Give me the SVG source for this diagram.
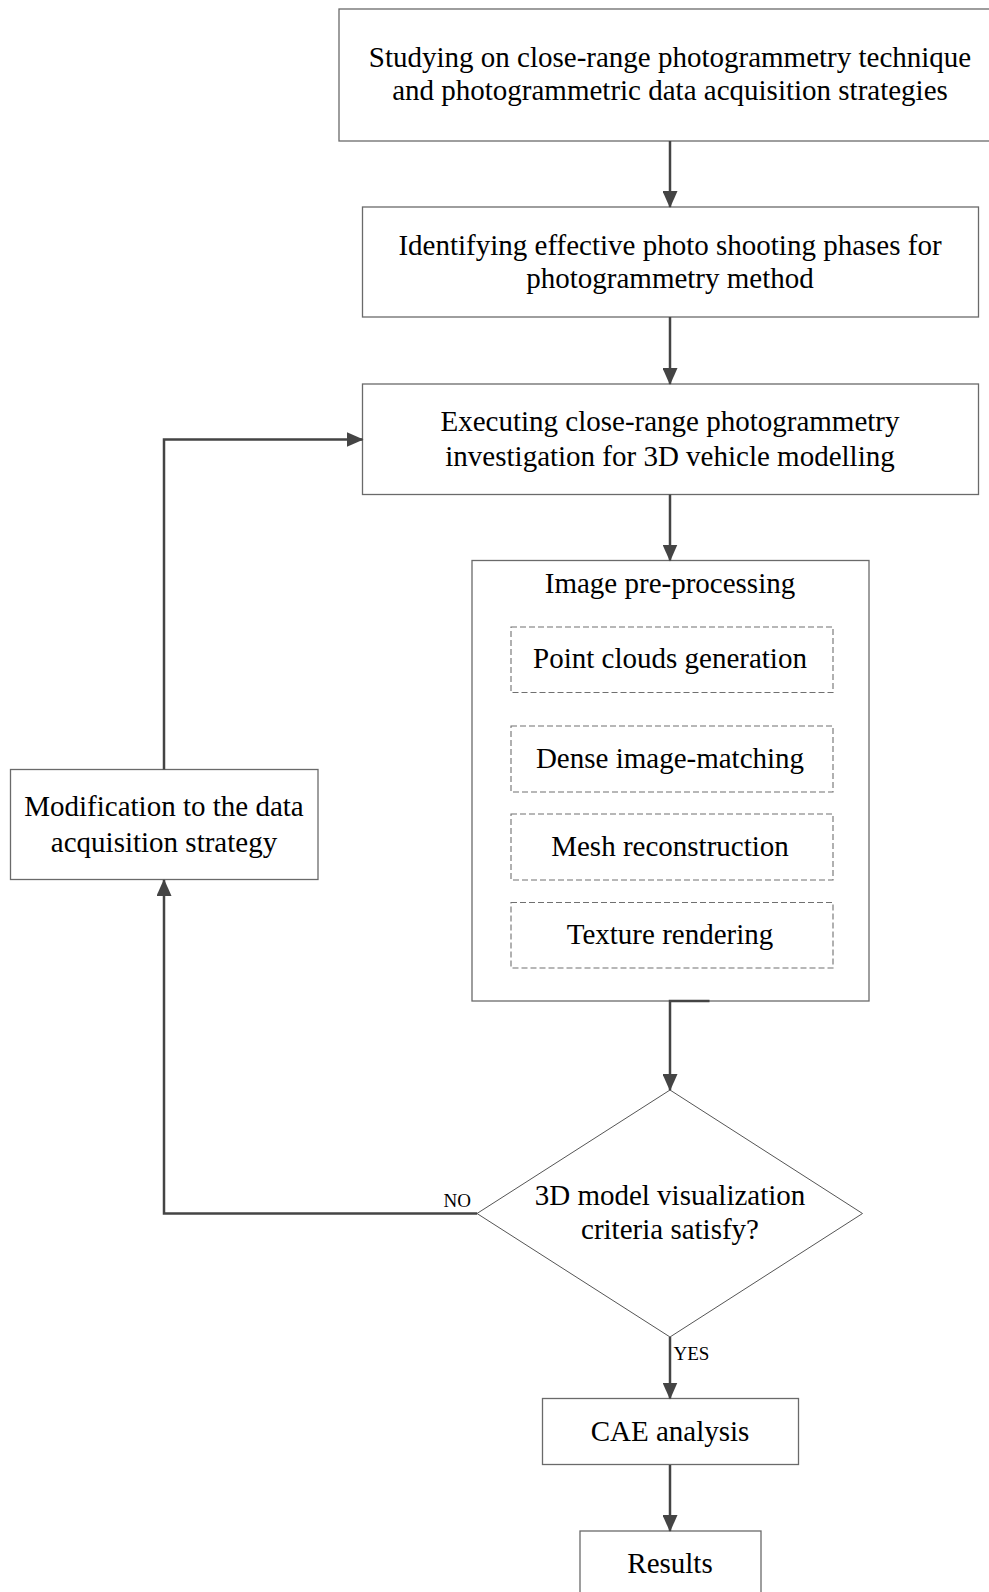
<svg xmlns="http://www.w3.org/2000/svg" width="989" height="1592" viewBox="0 0 989 1592">
<style>
.box{fill:#fff;stroke:#6a6a6a;stroke-width:1.3}
.dash{fill:none;stroke:#707070;stroke-width:1.1;stroke-dasharray:6 3}
.dia{fill:#fff;stroke:#555;stroke-width:1}
.t{font-family:"Liberation Serif","Times New Roman",serif;font-size:29px;fill:#000;text-anchor:middle}
.lbl{font-family:"Liberation Serif","Times New Roman",serif;font-size:19px;fill:#000}
.c{fill:none;stroke:#444;stroke-width:2.5}
</style>
<defs>
<marker id="ah" markerUnits="userSpaceOnUse" markerWidth="17" markerHeight="15" viewBox="0 0 17 15" refX="16" refY="7.5" orient="auto">
<path d="M0,0 L17,7.5 L0,15 z" fill="#444"/>
</marker>
</defs>
<rect width="989" height="1592" fill="#fff"/>

<g id="n1">
<rect class="box" x="339" y="9" width="662" height="132"/>
<text class="t" x="670" y="66.5">Studying on close-range photogrammetry technique</text>
<text class="t" x="670" y="100">and photogrammetric data acquisition strategies</text>
</g>

<g id="n2">
<rect class="box" x="362.5" y="207" width="616" height="110"/>
<text class="t" x="670" y="255">Identifying effective photo shooting phases for</text>
<text class="t" x="670" y="287.5">photogrammetry method</text>
</g>

<g id="n3">
<rect class="box" x="362.5" y="384" width="616" height="110.5"/>
<text class="t" x="670" y="430.5">Executing close-range photogrammetry</text>
<text class="t" x="670" y="465.5">investigation for 3D vehicle modelling</text>
</g>

<g id="n4">
<rect class="box" x="472" y="560.5" width="397" height="440.5"/>
<text class="t" x="670" y="592.5">Image pre-processing</text>
</g>

<g id="n4a">
<rect class="dash" x="511" y="627" width="322" height="65.5"/>
<text class="t" x="670" y="668">Point clouds generation</text>
</g>
<g id="n4b">
<rect class="dash" x="511" y="726" width="322" height="66"/>
<text class="t" x="670" y="768">Dense image-matching</text>
</g>
<g id="n4c">
<rect class="dash" x="511" y="814" width="322" height="66"/>
<text class="t" x="670" y="856">Mesh reconstruction</text>
</g>
<g id="n4d">
<rect class="dash" x="511" y="902.5" width="322" height="65.5"/>
<text class="t" x="670" y="944">Texture rendering</text>
</g>

<g id="n5">
<polygon class="dia" points="670,1090 862.5,1213.5 670,1337 477,1213.5"/>
<text class="t" x="670" y="1205">3D model visualization</text>
<text class="t" x="670" y="1239">criteria satisfy?</text>
</g>

<g id="n6">
<rect class="box" x="10.5" y="769.5" width="307.5" height="110"/>
<text class="t" x="164" y="816">Modification to the data</text>
<text class="t" x="164" y="851.5">acquisition strategy</text>
</g>

<g id="n7">
<rect class="box" x="542.5" y="1398.5" width="256" height="66"/>
<text class="t" x="670" y="1441">CAE analysis</text>
</g>

<g id="n8">
<rect class="box" x="580" y="1531" width="181" height="80"/>
<text class="t" x="670" y="1572.5">Results</text>
</g>

<g id="connectors">
<path class="c" d="M670,141 V207" marker-end="url(#ah)"/>
<path class="c" d="M670,317 V384" marker-end="url(#ah)"/>
<path class="c" d="M670,494.5 V560.5" marker-end="url(#ah)"/>
<path class="c" d="M709.5,1001 H670 V1090" marker-end="url(#ah)"/>
<path class="c" d="M477,1213.5 H164 V880" marker-end="url(#ah)"/>
<path class="c" d="M164,769.5 V439.5 H362.5" marker-end="url(#ah)"/>
<path class="c" d="M670,1337 V1398.5" marker-end="url(#ah)"/>
<path class="c" d="M670,1465 V1531" marker-end="url(#ah)"/>
<text class="lbl" x="443.5" y="1206.5">NO</text>
<text class="lbl" x="673.5" y="1360">YES</text>
</g>
</svg>
